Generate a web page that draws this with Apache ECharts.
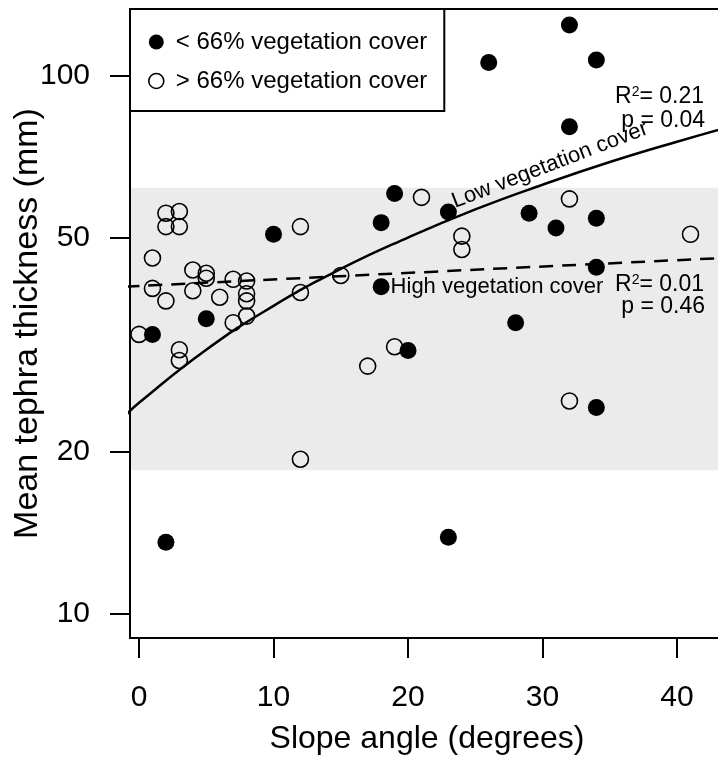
<!DOCTYPE html>
<html><head><meta charset="utf-8">
<script src="https://cdn.jsdelivr.net/npm/echarts@6/dist/echarts.min.js"></script>
<style>html,body{margin:0;padding:0;background:#fff;} #c{width:718px;height:760px;}</style>
</head><body><div id="c"></div>
<script>
// ---- data ----
const lowCoverX = [32, 26, 34, 32, 19, 18, 23, 29, 31, 34, 10, 34, 18, 28, 20, 34, 5, 1, 2, 23];
const lowCoverY = [124.4, 105.9, 107.1, 80.5, 60.5, 53.4, 55.9, 55.6, 52.2, 54.4, 50.8, 44.1, 40.6, 34.8, 30.9, 24.2, 35.4, 33.1, 13.6, 13.9];

const highCoverX = [2, 3, 2, 3, 1, 4, 5, 5, 1, 4, 2, 6, 7, 8, 8, 8, 8, 7, 0, 3, 3, 12, 12, 15, 24, 24, 41, 19, 17, 32, 12, 21, 32];
const highCoverY = [55.6, 56.0, 52.5, 52.5, 45.9, 43.6, 43.0, 42.1, 40.3, 39.9, 38.2, 38.8, 41.9, 41.6, 39.4, 38.2, 35.8, 34.8, 33.1, 31.0, 29.6, 52.5, 39.6, 42.6, 50.4, 47.6, 50.8, 31.4, 28.9, 24.9, 19.4, 59.5, 59.1];

// fitted curves
const lowFitX = [-1, 0, 5, 10, 15, 20, 25, 30, 35, 40, 45];
const lowFitY = [23.4, 24.7, 31.0, 37.4, 43.8, 50.1, 56.5, 62.8, 69.2, 75.5, 81.9];
const highFitX = [-1, 22, 45];
const highFitY = [40.6, 43.3, 46.1];

const shadedBand = [18.5, 62];
const xTicks = [0, 10, 20, 30, 40];
const yTicks = [10, 20, 50, 100];
const xRange = [-0.67, 43.49];
const yRange = [9.03, 133.2];

const seriesNames = ['< 66% vegetation cover', '> 66% vegetation cover'];

// ---- build ----
const L = v => Math.log10(v);
const zip = (xs, ys) => xs.map((x, i) => [x, L(ys[i])]);
const FONT = "'Liberation Sans', Arial, Helvetica, sans-serif";

const chart = echarts.init(document.getElementById('c'));
chart.setOption({
  animation: false,
  backgroundColor: '#fff',
  textStyle: { fontFamily: FONT, color: '#000' },
  grid: { left: 130, top: 9, right: -6, bottom: 122, containLabel: false, outerBoundsMode: 'none',
    show: true, borderColor: '#000', borderWidth: 2, backgroundColor: 'transparent' },
  legend: {
    orient: 'vertical', left: 130, top: 9,
    selectedMode: false,
    borderColor: '#000', borderWidth: 2, borderRadius: 0,
    backgroundColor: '#fff',
    padding: [21, 17, 18, 18],
    itemWidth: 29, itemHeight: 15, itemGap: 15,
    textStyle: { fontSize: 24, color: '#000', fontFamily: FONT },
    data: [
      { name: seriesNames[0], icon: 'circle', itemStyle: { color: '#000', borderWidth: 0, opacity: 1 } },
      { name: seriesNames[1], icon: 'circle', itemStyle: { color: 'rgba(0,0,0,0)', borderColor: '#000', borderWidth: 1.6, opacity: 1 } }
    ],
    z: 8
  },
  xAxis: {
    type: 'value', min: xRange[0], max: xRange[1], z: 10,
    axisLine: { show: true, onZero: false, lineStyle: { color: '#000', width: 2 } },
    axisTick: { show: true, customValues: xTicks, length: 20, inside: false, lineStyle: { color: '#000', width: 2 } },
    axisLabel: { customValues: xTicks, margin: 45, fontSize: 30, color: '#000', fontFamily: FONT },
    splitLine: { show: false },
    name: 'Slope angle (degrees)', nameLocation: 'middle', nameGap: 85, nameMoveOverlap: false,
    nameTextStyle: { fontSize: 32, color: '#000', fontFamily: FONT }
  },
  yAxis: {
    type: 'value', min: L(yRange[0]), max: L(yRange[1]), z: 10,
    axisLine: { show: true, onZero: false, lineStyle: { color: '#000', width: 2 } },
    axisTick: { show: true, customValues: yTicks.map(L), length: 20, inside: false, lineStyle: { color: '#000', width: 2 } },
    axisLabel: {
      customValues: yTicks.map(L), margin: 40, fontSize: 30, color: '#000', fontFamily: FONT,
      formatter: v => { const t = yTicks.find(t => Math.abs(L(t) - v) < 1e-6); return t == null ? '' : String(t); }
    },
    splitLine: { show: false },
    name: 'Mean tephra thickness (mm)', nameLocation: 'middle', nameGap: 85, nameMoveOverlap: false,
    nameTextStyle: { fontSize: 34, color: '#000', fontFamily: FONT }
  },
  series: [
    {
      type: 'line', name: 'band', data: [], silent: true, z: 1,
      markArea: { silent: true, itemStyle: { color: '#ebebeb' },
        data: [[{ yAxis: L(shadedBand[0]) }, { yAxis: L(shadedBand[1]) }]] }
    },
    {
      type: 'line', name: 'Low vegetation cover fit', data: zip(lowFitX, lowFitY), smooth: true,
      showSymbol: false, silent: true, lineStyle: { color: '#000', width: 2.5 }, z: 3
    },
    {
      type: 'line', name: 'High vegetation cover fit', data: zip(highFitX, highFitY), smooth: true,
      showSymbol: false, silent: true, lineStyle: { color: '#000', width: 2.5, type: [14, 9] }, z: 3
    },
    {
      type: 'scatter', name: seriesNames[0], data: zip(lowCoverX, lowCoverY), symbol: 'circle', symbolSize: 17,
      itemStyle: { color: '#000', opacity: 1 }, z: 5, emphasis: { disabled: true }
    },
    {
      type: 'scatter', name: seriesNames[1], data: zip(highCoverX, highCoverY), symbol: 'circle', symbolSize: 16,
      itemStyle: { color: 'rgba(0,0,0,0)', borderColor: '#000', borderWidth: 1.6, opacity: 1 }, z: 5, emphasis: { disabled: true }
    }
  ],
  graphic: [
    { type: 'text', x: 704, y: 97, z: 20, style: { text: '{a|R}{s|2}{a|= 0.21}', align: 'right', verticalAlign: 'middle', fill: '#000',
      rich: { a: { fontSize: 23, fontFamily: FONT, fill: '#000' }, s: { fontSize: 14, fontFamily: FONT, verticalAlign: 'top', fill: '#000' } } } },
    { type: 'text', x: 705, y: 121, z: 20, style: { text: 'p = 0.04', align: 'right', verticalAlign: 'middle', fill: '#000', font: '23px ' + FONT } },
    { type: 'text', x: 704, y: 285, z: 20, style: { text: '{a|R}{s|2}{a|= 0.01}', align: 'right', verticalAlign: 'middle', fill: '#000',
      rich: { a: { fontSize: 23, fontFamily: FONT, fill: '#000' }, s: { fontSize: 14, fontFamily: FONT, verticalAlign: 'top', fill: '#000' } } } },
    { type: 'text', x: 705, y: 307, z: 20, style: { text: 'p = 0.46', align: 'right', verticalAlign: 'middle', fill: '#000', font: '23px ' + FONT } },
    { type: 'text', x: 550, y: 165, rotation: 21 * Math.PI / 180, z: 20, style: { text: 'Low vegetation cover', x: 0, y: 0, align: 'center', verticalAlign: 'middle', fill: '#000', font: '22px ' + FONT } },
    { type: 'text', x: 497, y: 287, z: 20, style: { text: 'High vegetation cover', align: 'center', verticalAlign: 'middle', fill: '#000', font: '22px ' + FONT } }
  ]
});
</script>
</body></html>
